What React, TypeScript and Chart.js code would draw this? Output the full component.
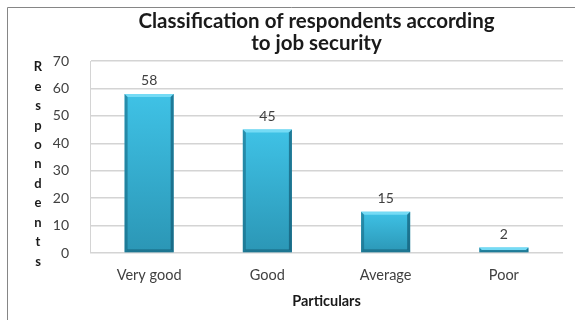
import React, { useEffect, useRef } from "react";
import { Chart, registerables } from "chart.js";

Chart.register(...registerables);

const categories = ["Very good", "Good", "Average", "Poor"];
const respondents = [58, 45, 15, 2];
const yTicks = [0, 10, 20, 30, 40, 50, 60, 70];
const titleLines = ["Classification of respondents according", "to job security"];
const yAxisTitle = "Respondents";
const xAxisTitle = "Particulars";

const FONT = "Lato, 'Open Sans', sans-serif";
const W = 575;
const H = 320;
const TITLE_LEFT = 70;

// White page with the outer chart frame (top and left edges visible)
const framePlugin = {
  id: "frame",
  beforeDraw(chart: any) {
    const ctx = chart.ctx;
    ctx.save();
    ctx.fillStyle = "#ffffff";
    ctx.fillRect(0, 0, chart.width, chart.height);
    ctx.strokeStyle = "#868686";
    ctx.lineWidth = 1;
    ctx.beginPath();
    ctx.moveTo(7.5, chart.height);
    ctx.lineTo(7.5, 7.5);
    ctx.lineTo(chart.width, 7.5);
    ctx.stroke();
    ctx.restore();
  },
};

// Centre the title over the whole chart frame rather than the padded box
const titleShiftPlugin = {
  id: "titleShift",
  afterLayout(chart: any) {
    const t = chart.titleBlock;
    if (t) {
      t.left = TITLE_LEFT;
      t.width = t.right - TITLE_LEFT;
    }
  },
};

// Vertical axis title written one letter per line
const stackedTitlePlugin = {
  id: "stackedTitle",
  afterDraw(chart: any) {
    const { ctx, chartArea } = chart;
    const letters = yAxisTitle.split("");
    const first = chartArea.top + 6;
    const last = chartArea.bottom + 8.5;
    const step = (last - first) / (letters.length - 1);
    ctx.save();
    ctx.font = `bold 13px ${FONT}`;
    ctx.fillStyle = "#1a1a1a";
    ctx.textAlign = "center";
    ctx.textBaseline = "middle";
    letters.forEach((ch, i) => ctx.fillText(ch, 38, first + i * step));
    ctx.restore();
  },
};

// Bevelled edges and value labels on each bar
const barDecorPlugin = {
  id: "barDecor",
  afterDatasetsDraw(chart: any) {
    const ctx = chart.ctx;
    const meta = chart.getDatasetMeta(0);
    ctx.save();
    meta.data.forEach((bar: any, i: number) => {
      const { x, y, base, width } = bar.getProps(["x", "y", "base", "width"], true);
      const l = x - width / 2;
      const r = x + width / 2;
      const h = base - y;
      const b = Math.min(3, h / 2);
      // top highlight
      ctx.fillStyle = "rgba(120, 220, 245, 0.95)";
      ctx.beginPath();
      ctx.moveTo(l, y);
      ctx.lineTo(r, y);
      ctx.lineTo(r - b, y + b);
      ctx.lineTo(l + b, y + b);
      ctx.closePath();
      ctx.fill();
      // left edge
      ctx.fillStyle = "rgba(20, 100, 125, 0.55)";
      ctx.beginPath();
      ctx.moveTo(l, y);
      ctx.lineTo(l + b, y + b);
      ctx.lineTo(l + b, base - b);
      ctx.lineTo(l, base);
      ctx.closePath();
      ctx.fill();
      // right edge
      ctx.fillStyle = "rgba(15, 85, 110, 0.65)";
      ctx.beginPath();
      ctx.moveTo(r, y);
      ctx.lineTo(r - b, y + b);
      ctx.lineTo(r - b, base - b);
      ctx.lineTo(r, base);
      ctx.closePath();
      ctx.fill();
      // bottom edge
      ctx.fillStyle = "rgba(15, 85, 110, 0.5)";
      ctx.beginPath();
      ctx.moveTo(l, base);
      ctx.lineTo(r, base);
      ctx.lineTo(r - b, base - b);
      ctx.lineTo(l + b, base - b);
      ctx.closePath();
      ctx.fill();
      // value label
      ctx.font = `14px ${FONT}`;
      ctx.fillStyle = "#404040";
      ctx.textAlign = "center";
      ctx.textBaseline = "middle";
      ctx.fillText(String(respondents[i]), x, y - 13.5);
    });
    ctx.restore();
  },
};

export default function App() {
  const canvasRef = useRef<HTMLCanvasElement | null>(null);

  useEffect(() => {
    if (!canvasRef.current) return;
    const chart = new Chart(canvasRef.current, {
      type: "bar",
      data: {
        labels: categories,
        datasets: [
          {
            data: respondents,
            barPercentage: 0.415,
            categoryPercentage: 1,
            borderWidth: 0,
            backgroundColor: (c: any) => {
              const ch = c.chart;
              const ys = ch.scales && ch.scales.y;
              if (!ys || c.dataIndex === undefined) return "#34acd0";
              const top = ys.getPixelForValue(respondents[c.dataIndex]);
              const bottom = ys.getPixelForValue(0);
              if (!isFinite(top) || !isFinite(bottom) || bottom <= top) return "#34acd0";
              const g = ch.ctx.createLinearGradient(0, top, 0, bottom);
              g.addColorStop(0, "#3fc2e6");
              g.addColorStop(1, "#2b96b5");
              return g;
            },
          },
        ],
      },
      options: {
        responsive: false,
        animation: false,
        devicePixelRatio: 1,
        layout: { padding: { left: 40, right: 12, top: 0, bottom: 0 } },
        plugins: {
          legend: { display: false },
          tooltip: { enabled: false },
          title: {
            display: true,
            text: titleLines,
            color: "#1a1a1a",
            font: { family: FONT, size: 20.5, weight: "bold", lineHeight: 22 / 20.5 },
            padding: { top: 10, bottom: 7 },
          },
        },
        scales: {
          x: {
            grid: { display: false, drawTicks: false },
            border: { display: false },
            ticks: { color: "#404040", font: { family: FONT, size: 14.5 }, padding: 13.3 },
            title: {
              display: true,
              text: xAxisTitle,
              color: "#1a1a1a",
              font: { family: FONT, size: 14.5, weight: "bold" },
              padding: { top: 0, bottom: 9.6 },
            },
            afterFit: (s: any) => {
              s.height = 67;
            },
          },
          y: {
            min: yTicks[0],
            max: yTicks[yTicks.length - 1],
            afterBuildTicks: (s: any) => {
              s.ticks = yTicks.map((v) => ({ value: v }));
            },
            grid: { color: "#d4d4d4", lineWidth: 1.5, drawTicks: false },
            border: { display: true, color: "#d4d4d4", width: 1 },
            ticks: { color: "#404040", font: { family: FONT, size: 14 }, padding: 21 },
            afterFit: (s: any) => {
              s.width = 50;
            },
          },
        },
      },
      plugins: [framePlugin, titleShiftPlugin, stackedTitlePlugin, barDecorPlugin],
    } as any);
    return () => chart.destroy();
  }, []);

  return (
    <div style={{ position: "fixed", left: 0, top: 0, width: W, height: H, background: "#fff" }}>
      <canvas ref={canvasRef} width={W} height={H} style={{ display: "block" }} />
    </div>
  );
}
